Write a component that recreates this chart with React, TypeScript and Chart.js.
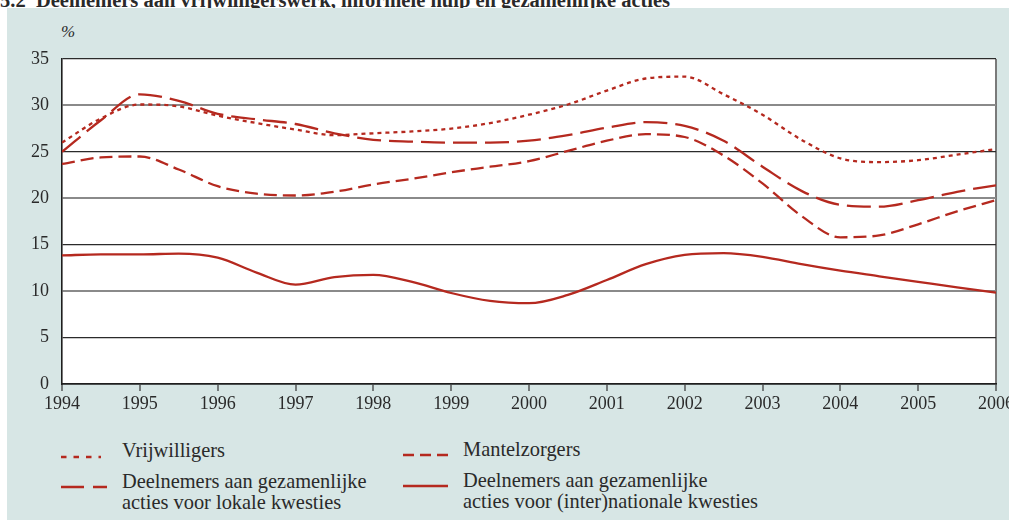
import React, { useEffect, useRef } from "react";
import { Chart, registerables } from "chart.js";

Chart.register(...registerables);

// ---- data ----
const years = [
  1994, 1994.5, 1995, 1995.5, 1996, 1996.5, 1997, 1997.5, 1998, 1998.5, 1999, 1999.5,
  2000, 2000.5, 2001, 2001.5, 2002, 2002.5, 2003, 2003.5, 2004, 2004.5, 2005, 2005.5, 2006,
];
const vrijwilligers = [
  26.0, 28.6, 30.1, 29.9, 28.9, 28.1, 27.4, 26.8, 27.0, 27.2, 27.5, 28.1,
  29.0, 30.1, 31.6, 32.9, 33.1, 31.2, 29.0, 26.3, 24.3, 23.9, 24.1, 24.7, 25.3,
];
const mantelzorgers = [
  23.7, 24.4, 24.5, 23.1, 21.3, 20.5, 20.3, 20.7, 21.5, 22.1, 22.8, 23.4,
  24.0, 25.1, 26.2, 26.9, 26.6, 24.6, 21.6, 18.1, 15.8, 16.0, 17.2, 18.6, 19.8,
];
const lokaleActies = [
  25.0, 28.4, 31.2, 30.5, 29.1, 28.5, 28.0, 27.0, 26.3, 26.1, 26.0, 26.0,
  26.2, 26.8, 27.6, 28.2, 27.8, 26.2, 23.4, 20.8, 19.3, 19.1, 19.8, 20.7, 21.4,
];
const nationaleActies = [
  13.85, 13.95, 13.95, 14.05, 13.6, 12.0, 10.7, 11.5, 11.75, 11.0, 9.8, 8.95,
  8.7, 9.6, 11.2, 12.9, 13.9, 14.1, 13.7, 12.9, 12.2, 11.6, 11.0, 10.4, 9.85,
];
const xTicks = [1994, 1995, 1996, 1997, 1998, 1999, 2000, 2001, 2002, 2003, 2004, 2005, 2006];
const yTicks = [0, 5, 10, 15, 20, 25, 30, 35];

const titleText = "5.2  Deelnemers aan vrijwilligerswerk, informele hulp en gezamenlijke acties";
const legendLabels = [
  ["Vrijwilligers"],
  ["Mantelzorgers"],
  ["Deelnemers aan gezamenlijke", "acties voor lokale kwesties"],
  ["Deelnemers aan gezamenlijke", "acties voor (inter)nationale kwesties"],
];

const RED = "#b5291f";
const TEXT = "#2a2a2a";
const FONT = "'Liberation Serif', 'Times New Roman', serif";
const PANEL = "#d7e6e5";

const DASH_V = [4, 4];
const DASH_M = [13, 6];
const DASH_L = [24, 8];

function toPoints(vals: number[]) {
  return years.map((x, i) => ({ x, y: vals[i] }));
}

const whiteArea = {
  id: "whiteArea",
  beforeDraw(chart: any) {
    const { ctx, chartArea } = chart;
    if (!chartArea) return;
    ctx.save();
    ctx.fillStyle = "#ffffff";
    ctx.fillRect(chartArea.left, chartArea.top, chartArea.right - chartArea.left, chartArea.bottom - chartArea.top);
    ctx.restore();
  },
};

function LegendSample({ left, top, width, dash }: { left: number; top: number; width: number; dash: string }) {
  return (
    <svg
      width={width}
      height={6}
      style={{ position: "absolute", left, top: top - 3, overflow: "visible" }}
    >
      <line x1={0} y1={3} x2={width} y2={3} stroke={RED} strokeWidth={2.4} strokeDasharray={dash} />
    </svg>
  );
}

function LegendText({ left, baseline, lines }: { left: number; baseline: number; lines: string[] }) {
  return (
    <div
      style={{
        position: "absolute",
        left,
        top: baseline - 17,
        fontFamily: FONT,
        fontSize: 20.4,
        lineHeight: "21px",
        color: TEXT,
        whiteSpace: "nowrap",
      }}
    >
      {lines.map((l, i) => (
        <div key={i}>{l}</div>
      ))}
    </div>
  );
}

export default function App() {
  const ref = useRef<HTMLCanvasElement | null>(null);

  useEffect(() => {
    if (!ref.current) return;
    const chart = new Chart(ref.current, {
      type: "line",
      data: {
        datasets: [
          { label: legendLabels[0].join(" "), data: toPoints(vrijwilligers), borderColor: RED, borderDash: DASH_V },
          { label: legendLabels[1].join(" "), data: toPoints(mantelzorgers), borderColor: RED, borderDash: DASH_M },
          { label: legendLabels[2].join(" "), data: toPoints(lokaleActies), borderColor: RED, borderDash: DASH_L },
          { label: legendLabels[3].join(" "), data: toPoints(nationaleActies), borderColor: RED },
        ],
      },
      options: {
        responsive: false,
        animation: false,
        layout: { padding: { top: 51, right: 13, left: 0, bottom: 0 } },
        plugins: { legend: { display: false }, tooltip: { enabled: false } },
        elements: {
          point: { radius: 0 },
          line: { borderWidth: 2.3, cubicInterpolationMode: "monotone", fill: false },
        },
        scales: {
          x: {
            type: "linear",
            min: 1994,
            max: 2006,
            afterBuildTicks: (s: any) => {
              s.ticks = xTicks.map((v) => ({ value: v }));
            },
            afterFit: (s: any) => {
              s.height = 29;
              s.paddingLeft = 0;
              s.paddingRight = 0;
            },
            ticks: {
              autoSkip: false,
              maxRotation: 0,
              padding: 2,
              color: TEXT,
              font: { family: FONT, size: 18 },
              callback: (v: any) => String(v),
            },
            grid: {
              drawOnChartArea: true,
              color: (ctx: any) => (ctx.tick && ctx.tick.value === 2006 ? "#7a7a7a" : "rgba(0,0,0,0)"),
              lineWidth: 2,
              tickLength: 7,
              tickColor: "#333",
              tickWidth: 1.2,
            },
            border: { color: "#1e1e1e", width: 1.8 },
          },
          y: {
            min: 0,
            max: 35,
            afterBuildTicks: (s: any) => {
              s.ticks = yTicks.map((v) => ({ value: v }));
            },
            afterFit: (s: any) => {
              s.width = 55;
            },
            ticks: {
              padding: 13,
              color: TEXT,
              font: { family: FONT, size: 18 },
              callback: (v: any) => String(v),
            },
            grid: {
              drawTicks: false,
              color: (ctx: any) => {
                const v = ctx.tick ? ctx.tick.value : 0;
                if (v === 0) return "rgba(0,0,0,0)";
                return v % 10 === 0 ? "#8a8a8a" : "#2b2b2b";
              },
              lineWidth: (ctx: any) => {
                const v = ctx.tick ? ctx.tick.value : 0;
                return v % 10 === 0 ? 2 : 1.2;
              },
            },
            border: { color: "#1e1e1e", width: 1.6 },
          },
        },
      } as any,
      plugins: [whiteArea],
    });
    return () => chart.destroy();
  }, []);

  return (
    <div
      style={{
        position: "absolute",
        left: 0,
        top: 0,
        width: 1009,
        height: 520,
        overflow: "hidden",
        background: "#ffffff",
      }}
    >
      <div
        style={{
          position: "absolute",
          left: 0,
          top: -15,
          fontFamily: FONT,
          fontWeight: "bold",
          fontSize: 20.5,
          lineHeight: "20px",
          color: TEXT,
          whiteSpace: "pre",
        }}
      >
        {titleText}
        <sup style={{ fontSize: 12, fontWeight: "normal" }}>a</sup>
      </div>
      <div
        style={{
          position: "absolute",
          left: 7,
          top: 8,
          width: 1002,
          height: 512,
          background: PANEL,
        }}
      />
      <div
        style={{
          position: "absolute",
          left: 61,
          top: 23,
          fontFamily: FONT,
          fontSize: 17,
          lineHeight: "17px",
          color: TEXT,
          fontStyle: "italic",
        }}
      >
        %
      </div>
      <canvas
        ref={ref}
        width={1002}
        height={405}
        style={{ position: "absolute", left: 7, top: 8, width: 1002, height: 405 }}
      />
      <LegendSample left={61} top={457} width={40} dash="5.5 7" />
      <LegendText left={122} baseline={457} lines={legendLabels[0]} />
      <LegendSample left={403} top={455} width={45} dash="11 6" />
      <LegendText left={463} baseline={456} lines={legendLabels[1]} />
      <LegendSample left={61} top={487} width={46} dash="23 9" />
      <LegendText left={122} baseline={488} lines={legendLabels[2]} />
      <LegendSample left={403} top={486} width={45} dash="" />
      <LegendText left={463} baseline={487} lines={legendLabels[3]} />
    </div>
  );
}
